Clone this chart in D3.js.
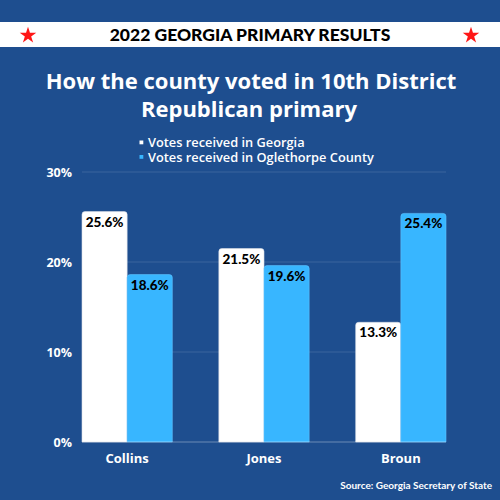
<!DOCTYPE html>
<html>
<head>
<meta charset="utf-8">
<script src="https://cdn.jsdelivr.net/npm/d3@7"></script>
<style>
  html, body { margin: 0; padding: 0; background: #1e4e8f; }
  svg { display: block; }
</style>
</head>
<body>
<svg id="chart" width="500" height="500"></svg>
<script>
(function () {
    'use strict';

    const WIDTH = 500;
    const HEIGHT = 500;

    const candidates = ["Collins", "Jones", "Broun"];
    const seriesNames = ["Votes received in Georgia", "Votes received in Oglethorpe County"];
    const georgia = [25.6, 21.5, 13.3];
    const oglethorpe = [18.6, 19.6, 25.4];
    const yTicks = [0, 10, 20, 30];

    const BG = "#1e4e8f";
    const colors = ["#ffffff", "#38b6ff"];

    var svg = d3.select("#chart");

    svg.append("rect")
        .attr("width", WIDTH).attr("height", HEIGHT)
        .attr("fill", BG);

    // banner
    svg.append("rect")
        .attr("x", 0).attr("y", 22)
        .attr("width", WIDTH).attr("height", 25)
        .attr("fill", "#ffffff");

    svg.append("text")
        .attr("x", 250).attr("y", 41)
        .attr("text-anchor", "middle")
        .style("font-family", "Lato")
        .style("font-weight", 900)
        .style("font-size", "17.5px")
        .attr("fill", "#000")
        .text("2022 GEORGIA PRIMARY RESULTS");

    let star = d3.symbol().type(d3.symbolStar).size(85);
    [28, 471].forEach(function (cx) {
        svg.append("path")
            .attr("d", star())
            .attr("transform", `translate(${cx},35.5)`)
            .attr("fill", "#ff1616");
    });

    // headline
    var headline = svg.append("text")
        .attr("text-anchor", "middle")
        .style("font-family", "Open Sans")
        .style("font-weight", 700)
        .style("font-size", "22px")
        .attr("fill", "#fff");
    headline.append("tspan").attr("x", 251).attr("y", 89).text("How the county voted in 10th District");
    headline.append("tspan").attr("x", 249).attr("y", 117).text("Republican primary");

    // legend
    seriesNames.forEach(function (name, i) {
        let y = 147 + i * 14.5;
        svg.append("rect")
            .attr("x", 139.5).attr("y", y - 6.5)
            .attr("width", 3.8).attr("height", 3.8)
            .attr("fill", colors[i]);
        svg.append("text")
            .attr("x", 148).attr("y", y)
            .style("font-family", "Open Sans")
            .style("font-weight", 600)
            .style("font-size", "12.8px")
            .attr("fill", "#fff")
            .text(name);
    });

    // scales
    var x = d3.scaleBand()
        .domain(candidates)
        .range([82, 446])
        .paddingInner(0.34)
        .paddingOuter(0);

    var xSub = d3.scaleBand()
        .domain([0, 1])
        .range([0, x.bandwidth()])
        .padding(0);

    var y = d3.scaleLinear()
        .domain([0, 30])
        .range([442, 172]);

    // gridlines
    svg.append("g")
        .selectAll("line")
        .data(yTicks.filter(d => d > 0))
        .join("line")
        .attr("x1", 82).attr("x2", 446)
        .attr("y1", d => y(d)).attr("y2", d => y(d))
        .attr("stroke", "rgba(255,255,255,0.13)")
        .attr("stroke-width", 1);

    // y labels
    svg.append("g")
        .selectAll("text")
        .data(yTicks)
        .join("text")
        .attr("x", 72)
        .attr("y", d => y(d) + 5)
        .attr("text-anchor", "end")
        .style("font-family", "Open Sans")
        .style("font-weight", 700)
        .style("font-size", "12.5px")
        .attr("fill", "#fff")
        .text(d => d + "%");

    // bars
    function barPath(x0, w, top, bottom, r) {
        return `M${x0},${bottom}V${top + r}Q${x0},${top} ${x0 + r},${top}` +
            `H${x0 + w - r}Q${x0 + w},${top} ${x0 + w},${top + r}V${bottom}Z`;
    }

    let rows = [];
    candidates.forEach(function (c, i) {
        rows.push({ cand: c, s: 0, v: georgia[i] });
        rows.push({ cand: c, s: 1, v: oglethorpe[i] });
    });

    var bars = svg.append("g");
    bars.selectAll("path")
        .data(rows)
        .join("path")
        .attr("d", d => barPath(x(d.cand) + xSub(d.s), xSub.bandwidth(), y(d.v), y(0), 3))
        .attr("fill", d => colors[d.s])
        .attr("stroke", d => d.s === 0 ? "#d8dde6" : "#5fc3ff")
        .attr("stroke-width", 0.6);

    bars.selectAll("text")
        .data(rows)
        .join("text")
        .attr("x", d => x(d.cand) + xSub(d.s) + xSub.bandwidth() / 2)
        .attr("y", d => y(d.v) + 15)
        .attr("text-anchor", "middle")
        .style("font-family", "Lato")
        .style("font-weight", 900)
        .style("font-size", "13.5px")
        .attr("fill", "#000")
        .text(d => d.v.toFixed(1) + "%");

    // baseline
    svg.append("line")
        .attr("x1", 82).attr("x2", 446)
        .attr("y1", y(0)).attr("y2", y(0))
        .attr("stroke", "rgba(255,255,255,0.35)")
        .attr("stroke-width", 1);

    // category labels
    svg.append("g")
        .selectAll("text")
        .data(candidates)
        .join("text")
        .attr("x", d => x(d) + x.bandwidth() / 2)
        .attr("y", 463)
        .attr("text-anchor", "middle")
        .style("font-family", "Open Sans")
        .style("font-weight", 700)
        .style("font-size", "13px")
        .attr("fill", "#fff")
        .text(d => d);

    // source
    svg.append("text")
        .attr("x", 492).attr("y", 489)
        .attr("text-anchor", "end")
        .style("font-family", "Lato")
        .style("font-weight", 700)
        .style("font-size", "10px")
        .attr("fill", "#fff")
        .text("Source: Georgia Secretary of State");
})();
</script>
</body>
</html>
